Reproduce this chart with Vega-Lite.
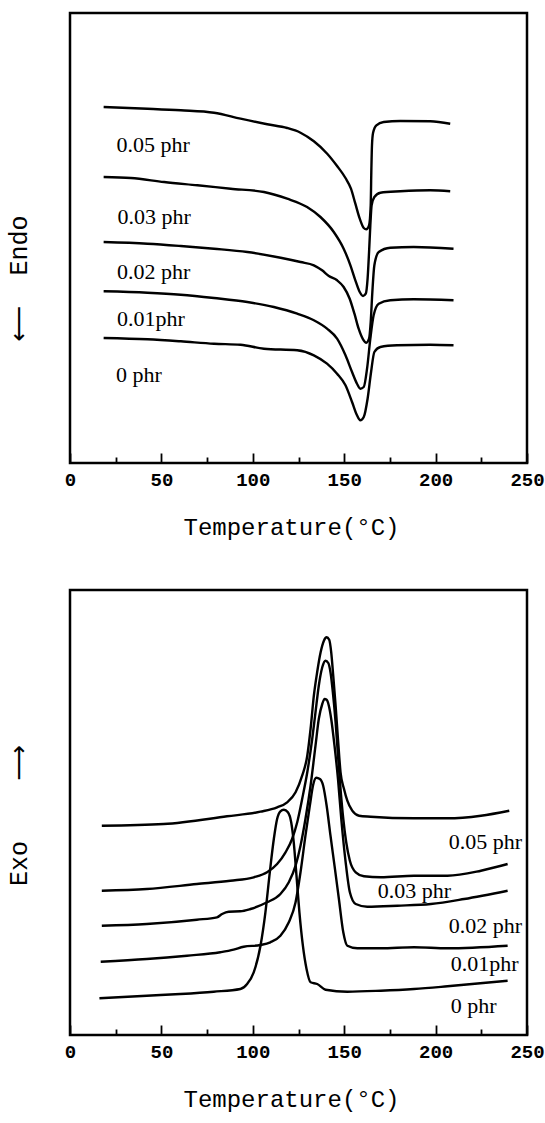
{
  "$schema": "https://vega.github.io/schema/vega-lite/v6.json",
  "padding": {"top": 11, "left": 4, "right": 5, "bottom": 0},
  "background": "white",
  "spacing": 47,
  "config": {
    "view": {"stroke": "black", "strokeWidth": 2.5},
    "line": {"color": "black", "strokeWidth": 2.4, "interpolate": "monotone"},
    "text": {"color": "black", "font": "Liberation Serif", "fontSize": 22, "align": "left", "baseline": "middle"},
    "axisX": {
      "labelOverlap": false,
      "tickColor": "black", "tickWidth": 1.8, "domain": false, "grid": false,
      "labelFont": "Liberation Mono", "labelFontSize": 19, "labelFontWeight": "bold", "labelColor": "black",
      "labelPadding": 17, "labelFlush": false,
      "titleFont": "Liberation Mono", "titleFontSize": 24, "titleFontWeight": "normal", "titleColor": "black", "titlePadding": 22, "titleX": 221
    },
    "axisY": {
      "ticks": false, "labels": false, "domain": false, "grid": false,
      "titleFont": "Liberation Mono, DejaVu Sans", "titleFontSize": 25, "titleFontWeight": "normal", "titleColor": "black", "titlePadding": 39
    }
  },
  "datasets": {
    "dsc": [
      {"s":"0.05 phr","T":18.4,"v":356},{"s":"0.05 phr","T":42.4,"v":354.3},{"s":"0.05 phr","T":60.6,"v":352.7},{"s":"0.05 phr","T":78.8,"v":350.3},{"s":"0.05 phr","T":93.3,"v":344.3},{"s":"0.05 phr","T":107.9,"v":338.7},{"s":"0.05 phr","T":118.8,"v":335},{"s":"0.05 phr","T":126.1,"v":330.3},{"s":"0.05 phr","T":133.4,"v":321.7},{"s":"0.05 phr","T":140.7,"v":309.3},{"s":"0.05 phr","T":146.1,"v":297},{"s":"0.05 phr","T":150.7,"v":285},{"s":"0.05 phr","T":153.7,"v":274.3},{"s":"0.05 phr","T":156.1,"v":259.3},{"s":"0.05 phr","T":158.5,"v":244.3},{"s":"0.05 phr","T":160.7,"v":235},{"s":"0.05 phr","T":162.1,"v":233.7},{"s":"0.05 phr","T":163.6,"v":237.7},{"s":"0.05 phr","T":164.5,"v":257.7},{"s":"0.05 phr","T":164.8,"v":287.7},{"s":"0.05 phr","T":165.2,"v":317.7},{"s":"0.05 phr","T":165.8,"v":330.3},{"s":"0.05 phr","T":167.6,"v":337.7},{"s":"0.05 phr","T":171.6,"v":341},{"s":"0.05 phr","T":180.7,"v":342},{"s":"0.05 phr","T":197.1,"v":341.7},{"s":"0.05 phr","T":208,"v":339.3},
      {"s":"0.03 phr","T":18.4,"v":286},{"s":"0.03 phr","T":33.3,"v":285},{"s":"0.03 phr","T":51.5,"v":281},{"s":"0.03 phr","T":69.7,"v":277.7},{"s":"0.03 phr","T":87.9,"v":274.3},{"s":"0.03 phr","T":106.1,"v":271},{"s":"0.03 phr","T":118.8,"v":264.3},{"s":"0.03 phr","T":129.7,"v":256},{"s":"0.03 phr","T":137,"v":246},{"s":"0.03 phr","T":144.3,"v":231},{"s":"0.03 phr","T":149.7,"v":214.3},{"s":"0.03 phr","T":153.4,"v":197.7},{"s":"0.03 phr","T":156.1,"v":182.7},{"s":"0.03 phr","T":158.5,"v":171},{"s":"0.03 phr","T":160.3,"v":167},{"s":"0.03 phr","T":161.8,"v":169.3},{"s":"0.03 phr","T":162.8,"v":184.3},{"s":"0.03 phr","T":163.6,"v":211},{"s":"0.03 phr","T":164.3,"v":237.7},{"s":"0.03 phr","T":165,"v":257.7},{"s":"0.03 phr","T":166.5,"v":266},{"s":"0.03 phr","T":169.8,"v":270.3},{"s":"0.03 phr","T":180.7,"v":271.7},{"s":"0.03 phr","T":197.1,"v":272.7},{"s":"0.03 phr","T":208,"v":271.7},
      {"s":"0.02 phr","T":18.4,"v":221},{"s":"0.02 phr","T":42.4,"v":219.3},{"s":"0.02 phr","T":60.6,"v":217},{"s":"0.02 phr","T":78.8,"v":214.3},{"s":"0.02 phr","T":97,"v":211},{"s":"0.02 phr","T":115.2,"v":205.3},{"s":"0.02 phr","T":126.1,"v":201},{"s":"0.02 phr","T":133.4,"v":197.7},{"s":"0.02 phr","T":137.9,"v":192.7},{"s":"0.02 phr","T":141.6,"v":187},{"s":"0.02 phr","T":146.1,"v":182.7},{"s":"0.02 phr","T":149.7,"v":176},{"s":"0.02 phr","T":153,"v":164.3},{"s":"0.02 phr","T":155.6,"v":149.3},{"s":"0.02 phr","T":157.9,"v":134.3},{"s":"0.02 phr","T":160.3,"v":123.7},{"s":"0.02 phr","T":162.1,"v":120.3},{"s":"0.02 phr","T":163.6,"v":124.3},{"s":"0.02 phr","T":164.5,"v":141},{"s":"0.02 phr","T":165.4,"v":171},{"s":"0.02 phr","T":166.5,"v":197.7},{"s":"0.02 phr","T":168.9,"v":211},{"s":"0.02 phr","T":175.2,"v":215.3},{"s":"0.02 phr","T":188,"v":216},{"s":"0.02 phr","T":209.8,"v":214.3},
      {"s":"0.01phr","T":18.4,"v":171.7},{"s":"0.01phr","T":42.4,"v":170.3},{"s":"0.01phr","T":60.6,"v":168.3},{"s":"0.01phr","T":78.8,"v":165},{"s":"0.01phr","T":97,"v":161},{"s":"0.01phr","T":111.5,"v":156},{"s":"0.01phr","T":124.3,"v":149.3},{"s":"0.01phr","T":133.4,"v":142.7},{"s":"0.01phr","T":140.6,"v":134.3},{"s":"0.01phr","T":146.1,"v":124.3},{"s":"0.01phr","T":150.7,"v":107.7},{"s":"0.01phr","T":154.3,"v":91},{"s":"0.01phr","T":157,"v":79.3},{"s":"0.01phr","T":158.8,"v":74.3},{"s":"0.01phr","T":160.7,"v":76},{"s":"0.01phr","T":162.5,"v":94.3},{"s":"0.01phr","T":164.3,"v":124.3},{"s":"0.01phr","T":166.1,"v":147.7},{"s":"0.01phr","T":168.9,"v":159.3},{"s":"0.01phr","T":175.2,"v":162.7},{"s":"0.01phr","T":188,"v":163.7},{"s":"0.01phr","T":209.8,"v":162.7},
      {"s":"0 phr","T":18.4,"v":125},{"s":"0 phr","T":42.4,"v":123.7},{"s":"0 phr","T":60.6,"v":121.7},{"s":"0 phr","T":78.8,"v":119.3},{"s":"0 phr","T":93.3,"v":118.3},{"s":"0 phr","T":106.1,"v":114.3},{"s":"0 phr","T":124.3,"v":112.7},{"s":"0 phr","T":133.4,"v":107.7},{"s":"0 phr","T":140.6,"v":99.3},{"s":"0 phr","T":146.1,"v":89.3},{"s":"0 phr","T":150.7,"v":77.7},{"s":"0 phr","T":154.3,"v":61},{"s":"0 phr","T":157,"v":47.7},{"s":"0 phr","T":158.8,"v":42.7},{"s":"0 phr","T":160.7,"v":46},{"s":"0 phr","T":162.8,"v":64.3},{"s":"0 phr","T":164.7,"v":91},{"s":"0 phr","T":166.5,"v":111},{"s":"0 phr","T":169.8,"v":116},{"s":"0 phr","T":178.9,"v":117.7},{"s":"0 phr","T":197.1,"v":118.3},{"s":"0 phr","T":209.8,"v":117.7}
    ],
    "dscLabels": [
      {"label":"0.05 phr","T":25.5,"v":317.7},
      {"label":"0.03 phr","T":26,"v":246},
      {"label":"0.02 phr","T":25.7,"v":191},
      {"label":"0.01phr","T":25.7,"v":144.3},
      {"label":"0 phr","T":25.1,"v":87.7}
    ],
    "cryst": [
      {"s":"0.05 phr","T":17.4,"v":209.3},{"s":"0.05 phr","T":51.2,"v":211},{"s":"0.05 phr","T":85.9,"v":218.7},{"s":"0.05 phr","T":104.2,"v":223.3},{"s":"0.05 phr","T":113.3,"v":227.7},{"s":"0.05 phr","T":118.8,"v":232.7},{"s":"0.05 phr","T":123.4,"v":242.7},{"s":"0.05 phr","T":127,"v":259.3},{"s":"0.05 phr","T":129.8,"v":279.3},{"s":"0.05 phr","T":131.6,"v":306},{"s":"0.05 phr","T":133.4,"v":339.3},{"s":"0.05 phr","T":135.2,"v":362.7},{"s":"0.05 phr","T":137.1,"v":382.7},{"s":"0.05 phr","T":138.9,"v":394.3},{"s":"0.05 phr","T":140.4,"v":397.7},{"s":"0.05 phr","T":141.8,"v":395.3},{"s":"0.05 phr","T":142.9,"v":382.7},{"s":"0.05 phr","T":144,"v":359.3},{"s":"0.05 phr","T":145.3,"v":329.3},{"s":"0.05 phr","T":146.6,"v":296},{"s":"0.05 phr","T":148,"v":262.7},{"s":"0.05 phr","T":149.9,"v":246},{"s":"0.05 phr","T":151.7,"v":234.3},{"s":"0.05 phr","T":154.4,"v":224.3},{"s":"0.05 phr","T":158.1,"v":219.3},{"s":"0.05 phr","T":164.5,"v":218.3},{"s":"0.05 phr","T":188.2,"v":216.7},{"s":"0.05 phr","T":206.5,"v":216.7},{"s":"0.05 phr","T":224.8,"v":219.3},{"s":"0.05 phr","T":240.3,"v":224.3},
      {"s":"0.03 phr","T":17.4,"v":144.3},{"s":"0.03 phr","T":42,"v":146},{"s":"0.03 phr","T":69.4,"v":151},{"s":"0.03 phr","T":87.7,"v":154.3},{"s":"0.03 phr","T":100.5,"v":157.7},{"s":"0.03 phr","T":107.8,"v":162.7},{"s":"0.03 phr","T":113.3,"v":171},{"s":"0.03 phr","T":117.9,"v":182.7},{"s":"0.03 phr","T":121.5,"v":196},{"s":"0.03 phr","T":124.3,"v":212.7},{"s":"0.03 phr","T":127,"v":236},{"s":"0.03 phr","T":129.8,"v":262.7},{"s":"0.03 phr","T":132.5,"v":296},{"s":"0.03 phr","T":134.3,"v":322.7},{"s":"0.03 phr","T":136.1,"v":349.3},{"s":"0.03 phr","T":138,"v":367.7},{"s":"0.03 phr","T":139.8,"v":374.3},{"s":"0.03 phr","T":141.3,"v":372},{"s":"0.03 phr","T":142.5,"v":362.7},{"s":"0.03 phr","T":143.8,"v":342.7},{"s":"0.03 phr","T":145.3,"v":312.7},{"s":"0.03 phr","T":146.6,"v":279.3},{"s":"0.03 phr","T":148,"v":246},{"s":"0.03 phr","T":149.5,"v":216},{"s":"0.03 phr","T":151.1,"v":192.7},{"s":"0.03 phr","T":153.1,"v":174.3},{"s":"0.03 phr","T":156.3,"v":162.7},{"s":"0.03 phr","T":160.8,"v":158.7},{"s":"0.03 phr","T":170,"v":157.7},{"s":"0.03 phr","T":188.2,"v":159.3},{"s":"0.03 phr","T":206.5,"v":159.3},{"s":"0.03 phr","T":224.8,"v":164.3},{"s":"0.03 phr","T":239.4,"v":171},
      {"s":"0.02 phr","T":17.4,"v":109.3},{"s":"0.02 phr","T":42,"v":111},{"s":"0.02 phr","T":69.4,"v":115.3},{"s":"0.02 phr","T":80.4,"v":117.7},{"s":"0.02 phr","T":83.2,"v":121},{"s":"0.02 phr","T":86.8,"v":123.3},{"s":"0.02 phr","T":93.2,"v":123.7},{"s":"0.02 phr","T":98.7,"v":126},{"s":"0.02 phr","T":107.8,"v":132.7},{"s":"0.02 phr","T":115.1,"v":141},{"s":"0.02 phr","T":119.7,"v":152.7},{"s":"0.02 phr","T":123.4,"v":169.3},{"s":"0.02 phr","T":126.1,"v":189.3},{"s":"0.02 phr","T":128.8,"v":216},{"s":"0.02 phr","T":131.6,"v":249.3},{"s":"0.02 phr","T":134.3,"v":289.3},{"s":"0.02 phr","T":136.1,"v":316},{"s":"0.02 phr","T":138,"v":331},{"s":"0.02 phr","T":139.3,"v":336},{"s":"0.02 phr","T":140.4,"v":335.3},{"s":"0.02 phr","T":141.6,"v":329.3},{"s":"0.02 phr","T":142.9,"v":316},{"s":"0.02 phr","T":144.7,"v":289.3},{"s":"0.02 phr","T":146.6,"v":256},{"s":"0.02 phr","T":148.4,"v":216},{"s":"0.02 phr","T":150.8,"v":172.7},{"s":"0.02 phr","T":153.1,"v":142.7},{"s":"0.02 phr","T":156.3,"v":131},{"s":"0.02 phr","T":162.6,"v":128.3},{"s":"0.02 phr","T":179.1,"v":129.3},{"s":"0.02 phr","T":197.4,"v":131},{"s":"0.02 phr","T":215.6,"v":136},{"s":"0.02 phr","T":239.4,"v":144.3},
      {"s":"0.01phr","T":16.8,"v":73.3},{"s":"0.01phr","T":42,"v":76},{"s":"0.01phr","T":64,"v":79.3},{"s":"0.01phr","T":82.2,"v":82.7},{"s":"0.01phr","T":89.5,"v":85.3},{"s":"0.01phr","T":95,"v":88.3},{"s":"0.01phr","T":104.2,"v":90},{"s":"0.01phr","T":109.6,"v":92.7},{"s":"0.01phr","T":115.1,"v":99.3},{"s":"0.01phr","T":119.7,"v":112.7},{"s":"0.01phr","T":123.4,"v":132.7},{"s":"0.01phr","T":126.1,"v":162.7},{"s":"0.01phr","T":128.8,"v":199.3},{"s":"0.01phr","T":131.2,"v":229.3},{"s":"0.01phr","T":133,"v":250},{"s":"0.01phr","T":134.7,"v":257.3},{"s":"0.01phr","T":136.7,"v":256},{"s":"0.01phr","T":138.5,"v":249.3},{"s":"0.01phr","T":140.4,"v":229.3},{"s":"0.01phr","T":142.5,"v":199.3},{"s":"0.01phr","T":144.7,"v":169.3},{"s":"0.01phr","T":147.1,"v":136},{"s":"0.01phr","T":149.5,"v":102.7},{"s":"0.01phr","T":151.7,"v":89.3},{"s":"0.01phr","T":157.2,"v":86.7},{"s":"0.01phr","T":170,"v":86.7},{"s":"0.01phr","T":188.2,"v":87.7},{"s":"0.01phr","T":206.5,"v":86.7},{"s":"0.01phr","T":239.4,"v":89.3},
      {"s":"0 phr","T":16.1,"v":36.7},{"s":"0 phr","T":42,"v":39.3},{"s":"0 phr","T":60.3,"v":41},{"s":"0 phr","T":78.6,"v":43.3},{"s":"0 phr","T":93.2,"v":46},{"s":"0 phr","T":96.9,"v":51},{"s":"0 phr","T":100.5,"v":62.7},{"s":"0 phr","T":104.2,"v":89.3},{"s":"0 phr","T":106.9,"v":122.7},{"s":"0 phr","T":109.3,"v":162.7},{"s":"0 phr","T":111.5,"v":196},{"s":"0 phr","T":113.3,"v":216},{"s":"0 phr","T":115.1,"v":223.7},{"s":"0 phr","T":117,"v":225.3},{"s":"0 phr","T":119.2,"v":222.7},{"s":"0 phr","T":121,"v":212.7},{"s":"0 phr","T":122.4,"v":192.7},{"s":"0 phr","T":123.9,"v":159.3},{"s":"0 phr","T":125.5,"v":122.7},{"s":"0 phr","T":127.4,"v":89.3},{"s":"0 phr","T":129.4,"v":66},{"s":"0 phr","T":131.6,"v":52.7},{"s":"0 phr","T":135.2,"v":51},{"s":"0 phr","T":139.8,"v":45.3},{"s":"0 phr","T":151.7,"v":43.3},{"s":"0 phr","T":170,"v":44.3},{"s":"0 phr","T":188.2,"v":46},{"s":"0 phr","T":206.5,"v":48.7},{"s":"0 phr","T":239.4,"v":54.3}
    ],
    "crystLabels": [
      {"label":"0.05 phr","T":207.2,"v":193},
      {"label":"0.03 phr","T":168.3,"v":144},
      {"label":"0.02 phr","T":207.2,"v":109},
      {"label":"0.01phr","T":208.3,"v":71},
      {"label":"0 phr","T":208.3,"v":29}
    ]
  },
  "vconcat": [
    {
      "width": 457,
      "height": 450,
      "layer": [
        {
          "data": {"name": "dsc"},
          "mark": {"type": "line"},
          "encoding": {
            "x": {"field": "T", "type": "quantitative", "scale": {"domain": [0, 250], "nice": false},
              "axis": {"title": "Temperature(°C)", "values": [0, 25, 50, 75, 100, 125, 150, 175, 200, 225, 250],
                "labelExpr": "datum.value % 50 === 0 ? datum.label : ''",
                "tickSize": {"condition": {"test": "datum.value % 50 === 0", "value": -10}, "value": -6}}},
            "y": {"field": "v", "type": "quantitative", "scale": {"domain": [0, 450], "nice": false}, "axis": {"title": "\u27f5\u00a0\u00a0Endo", "titleY": 265}},
            "detail": {"field": "s"}
          }
        },
        {
          "data": {"name": "dscLabels"},
          "mark": {"type": "text"},
          "encoding": {
            "x": {"field": "T", "type": "quantitative"},
            "y": {"field": "v", "type": "quantitative"},
            "text": {"field": "label"}
          }
        }
      ]
    },
    {
      "width": 457,
      "height": 445,
      "layer": [
        {
          "data": {"name": "cryst"},
          "mark": {"type": "line"},
          "encoding": {
            "x": {"field": "T", "type": "quantitative", "scale": {"domain": [0, 250], "nice": false},
              "axis": {"title": "Temperature(°C)", "values": [0, 25, 50, 75, 100, 125, 150, 175, 200, 225, 250],
                "labelExpr": "datum.value % 50 === 0 ? datum.label : ''",
                "tickSize": {"condition": {"test": "datum.value % 50 === 0", "value": -10}, "value": -6}}},
            "y": {"field": "v", "type": "quantitative", "scale": {"domain": [0, 445], "nice": false}, "axis": {"title": "Exo\u00a0\u00a0\u00a0\u00a0\u27f6", "titleY": 225}},
            "detail": {"field": "s"}
          }
        },
        {
          "data": {"name": "crystLabels"},
          "mark": {"type": "text"},
          "encoding": {
            "x": {"field": "T", "type": "quantitative"},
            "y": {"field": "v", "type": "quantitative"},
            "text": {"field": "label"}
          }
        }
      ]
    }
  ]
}
